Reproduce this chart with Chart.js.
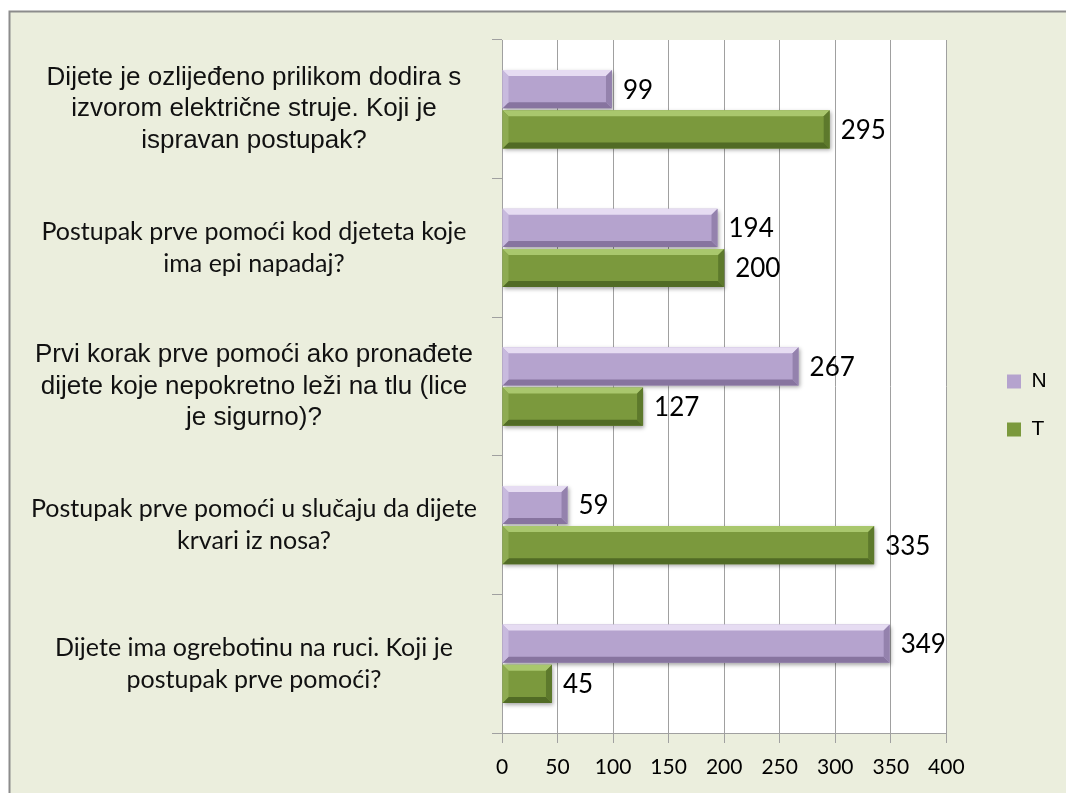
<!DOCTYPE html>
<html>
<head>
<meta charset="utf-8">
<script src="https://cdn.jsdelivr.net/npm/chart.js@4.4.0/dist/chart.umd.min.js"></script>
<style>
  html, body { margin: 0; padding: 0; background: #fff; }
  canvas { display: block; }
</style>
</head>
<body>
<canvas id="chart" width="1066" height="793"></canvas>
<script>
// pitanja (kategorije), svaki redak kao u originalu
const categories = [
    ['Dijete je ozlijeđeno prilikom dodira s', 'izvorom električne struje. Koji je', 'ispravan postupak?'],
    ['Postupak prve pomoći kod djeteta koje', 'ima epi napadaj?'],
    ['Prvi korak prve pomoći ako pronađete', 'dijete koje nepokretno leži na tlu (lice', 'je sigurno)?'],
    ['Postupak prve pomoći u slučaju da dijete', 'krvari iz nosa?'],
    ['Dijete ima ogrebotinu na ruci. Koji je', 'postupak prve pomoći?']
];
const seriesNames = ['N', 'T'];
const valuesN = [99, 194, 267, 59, 349];
const valuesT = [295, 200, 127, 335, 45];
const xMax = 400;
const xStep = 50;

// pitanja pisana Arialom (ostala Calibri)
const boldLabels = [0, 2];

const shades = [
    { face: '#b5a3ce', top: '#e6dcf2', bottom: '#87749f', left: '#c8bade', right: '#9482ad' },
    { face: '#7b993d', top: '#a9c76d', bottom: '#516b25', left: '#8eab52', right: '#5d792c' }
];

function poly(ctx, pts, color) {
    ctx.beginPath();
    ctx.moveTo(pts[0][0], pts[0][1]);
    for (let i = 1; i < pts.length; i++) ctx.lineTo(pts[i][0], pts[i][1]);
    ctx.closePath();
    ctx.fillStyle = color;
    ctx.fill();
}

const backgroundPlugin = {
    id: 'background',
    beforeDraw(chart) {
        const ctx = chart.ctx;
        const a = chart.chartArea;
        ctx.save();
        ctx.fillStyle = '#ffffff';
        ctx.fillRect(0, 0, chart.width, chart.height);
        ctx.fillStyle = '#ebeedd';
        ctx.fillRect(10, 12, chart.width - 10, chart.height - 12);
        ctx.strokeStyle = '#8c8c8c';
        ctx.lineWidth = 2;
        ctx.beginPath();
        ctx.moveTo(9.5, chart.height);
        ctx.lineTo(9.5, 11.5);
        ctx.lineTo(chart.width, 11.5);
        ctx.stroke();
        ctx.fillStyle = '#ffffff';
        ctx.fillRect(a.left, a.top, a.right - a.left, a.bottom - a.top);
        ctx.restore();
    }
};

const bevelPlugin = {
    id: 'bevel',
    afterLayout(chart) {
        // legenda malo desno i vise, kao u Excelu
        const lg = chart.legend;
        const w = lg.width;
        lg.left = 980;
        lg.right = lg.left + w;
        lg.top -= 11;
        lg.bottom -= 11;
    },
    beforeDatasetsDraw(chart) {
        const ctx = chart.ctx;
        ctx.save();
        ctx.shadowColor = 'rgba(0,0,0,0.35)';
        ctx.shadowBlur = 4;
        ctx.shadowOffsetX = 1;
        ctx.shadowOffsetY = 2;
    },
    afterDatasetsDraw(chart) {
        const ctx = chart.ctx;
        ctx.restore();
        ctx.save();
        chart.data.datasets.forEach((ds, i) => {
            const meta = chart.getDatasetMeta(i);
            const sh = shades[i];
            meta.data.forEach((bar, j) => {
                const p = bar.getProps(['x', 'y', 'base', 'height'], true);
                const x0 = Math.min(p.base, p.x);
                const x1 = Math.max(p.base, p.x);
                const yT = p.y - p.height / 2;
                const yB = p.y + p.height / 2;
                const d = Math.min(6, (x1 - x0) / 2, p.height / 2);
                poly(ctx, [[x0, yT], [x1, yT], [x1 - d, yT + d], [x0 + d, yT + d]], sh.top);
                poly(ctx, [[x0, yB], [x1, yB], [x1 - d, yB - d], [x0 + d, yB - d]], sh.bottom);
                poly(ctx, [[x0, yT], [x0 + d, yT + d], [x0 + d, yB - d], [x0, yB]], sh.left);
                poly(ctx, [[x1, yT], [x1 - d, yT + d], [x1 - d, yB - d], [x1, yB]], sh.right);

                // vrijednost
                ctx.fillStyle = '#000';
                ctx.font = '26px Lato';
                ctx.textBaseline = 'middle';
                ctx.textAlign = 'left';
                ctx.fillText(String(ds.data[j]), x1 + 11, p.y + 1);
            });
        });
        ctx.restore();
    }
};

const ctx = document.getElementById('chart').getContext('2d');
new Chart(ctx, {
    type: 'bar',
    data: {
        labels: categories,
        datasets: [
            { label: seriesNames[0], data: valuesN, backgroundColor: shades[0].face, borderWidth: 0 },
            { label: seriesNames[1], data: valuesT, backgroundColor: shades[1].face, borderWidth: 0 }
        ]
    },
    options: {
        indexAxis: 'y',
        responsive: false,
        animation: false,
        devicePixelRatio: 1,
        categoryPercentage: 0.58,
        barPercentage: 0.95,
        layout: { padding: { top: 40, right: 43, bottom: 0, left: 0 } },
        plugins: {
            legend: {
                position: 'right',
                labels: {
                    boxWidth: 14,
                    boxHeight: 14,
                    padding: 27,
                    color: '#000',
                    font: { family: 'Liberation Sans', size: 21 }
                }
            },
            tooltip: { enabled: false }
        },
        scales: {
            x: {
                min: 0,
                max: xMax,
                ticks: {
                    stepSize: xStep,
                    color: '#000',
                    padding: 12,
                    font: { family: 'Lato', size: 21 }
                },
                grid: { color: '#a0a0a0', tickLength: 10, lineWidth: 1 },
                border: { color: '#a0a0a0' },
                afterFit(scale) {
                    scale.height = 60;
                }
            },
            y: {
                ticks: {
                    crossAlign: 'center',
                    padding: 15,
                    color: '#111',
                    font(c) {
                        return boldLabels.includes(c.index)
                            ? { family: 'Liberation Sans', size: 26, lineHeight: 1.2 }
                            : { family: 'Lato', size: 25, lineHeight: 1.28 };
                    }
                },
                grid: { offset: true, drawOnChartArea: false, tickLength: 10, color: '#a0a0a0' },
                border: { color: '#a0a0a0' },
                afterFit(scale) {
                    scale.width = 502;
                    scale.paddingTop = 0;
                    scale.paddingBottom = 0;
                }
            }
        }
    },
    plugins: [backgroundPlugin, bevelPlugin]
});
</script>
</body>
</html>
